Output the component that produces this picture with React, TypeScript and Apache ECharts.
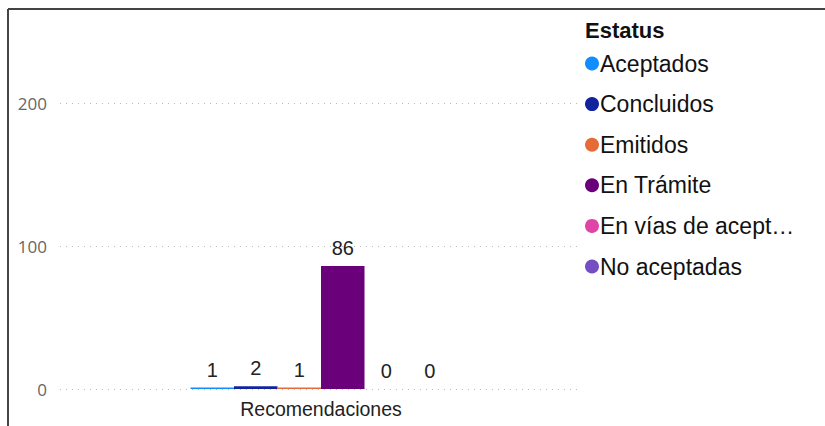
import React, { useEffect, useRef } from "react";
import * as echarts from "echarts";

const categories = ["Recomendaciones"];
const seriesNames = ["Aceptados", "Concluidos", "Emitidos", "En Trámite", "En vías de aceptación", "No aceptadas"];
const seriesValues = [1, 2, 1, 86, 0, 0];
const seriesColors = ["#118DFF", "#12239E", "#E66C37", "#6B007B", "#E044A7", "#744EC2"];
const yTicks = [0, 100, 200];

export default function App() {
  const ref = useRef<HTMLDivElement>(null);
  useEffect(() => {
    if (!ref.current) return;
    const chart = echarts.init(ref.current, null, { renderer: "svg" });
    chart.setOption({
      animation: false,
      backgroundColor: "#ffffff",
      title: {
        text: "Estatus",
        left: 580,
        top: 14,
        textStyle: { fontFamily: "Liberation Sans, Arial, sans-serif", fontSize: 22, fontWeight: "bold", color: "#111" },
      },
      legend: {
        orient: "vertical",
        left: 580,
        top: 47,
        icon: "circle",
        itemWidth: 14,
        itemHeight: 14,
        itemGap: 17.6,
        data: seriesNames,
        textStyle: {
          fontFamily: "Liberation Sans, Arial, sans-serif",
          fontSize: 23,
          color: "#111",
          width: 208.5,
          overflow: "truncate",
          ellipsis: "…",
          padding: [0, 0, 0, -4],
        },
      },
      grid: { left: 60, right: 243, top: 103, bottom: 37, containLabel: false },
      xAxis: {
        type: "category",
        data: categories,
        axisLine: { show: false },
        axisTick: { show: false },
        axisLabel: { fontFamily: "Liberation Sans, Arial, sans-serif", fontSize: 19.5, color: "#222", margin: 10 },
      },
      yAxis: {
        type: "value",
        min: yTicks[0],
        max: yTicks[yTicks.length - 1],
        interval: 100,
        axisLine: { show: false },
        axisTick: { show: false },
        axisLabel: { fontFamily: "Open Sans, sans-serif", fontSize: 17, color: "#666", margin: 13 },
        splitLine: { lineStyle: { type: [1, 5], color: "#bbb", width: 1 } },
      },
      series: seriesNames.map((name, i) => ({
        name,
        type: "bar",
        data: [seriesValues[i]],
        barGap: "0%",
        barCategoryGap: "50%",
        itemStyle: { color: seriesColors[i] },
        label: {
          show: true,
          position: "top",
          distance: 8,
          fontFamily: "Liberation Sans, Arial, sans-serif",
          fontSize: 20,
          color: "#222",
        },
      })),
      graphic: [
        { type: "line", shape: { x1: 8, y1: 9, x2: 825, y2: 9 }, style: { stroke: "#444", lineWidth: 2 } },
        { type: "line", shape: { x1: 8, y1: 9, x2: 8, y2: 426 }, style: { stroke: "#444", lineWidth: 2 } },
      ],
    });
    return () => chart.dispose();
  }, []);
  return <div ref={ref} style={{ position: "fixed", left: 0, top: 0, width: 825, height: 426 }} />;
}
